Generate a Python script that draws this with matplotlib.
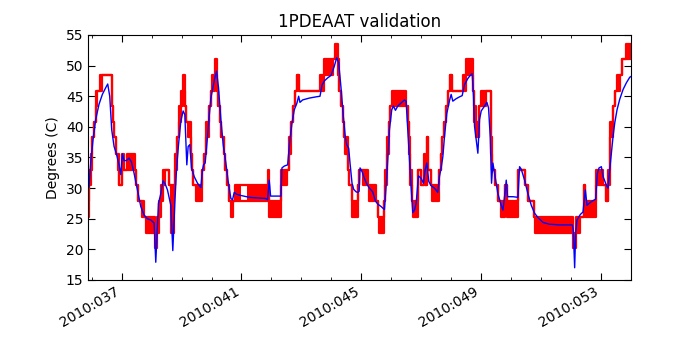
import numpy as np
import matplotlib
matplotlib.use("Agg")
import matplotlib.pyplot as plt
from matplotlib.ticker import FixedLocator, MultipleLocator, FuncFormatter

plt.rcParams["font.family"] = ["DejaVu Sans"]
plt.rcParams["xtick.direction"] = "in"
plt.rcParams["ytick.direction"] = "in"
plt.rcParams["xtick.top"] = True
plt.rcParams["ytick.right"] = True

TITLE = "1PDEAAT validation"
YLABEL = "Degrees (C)"
YEAR = 2010

# telemetry (quantized) as steps: start day, low level, high level (lo < hi means toggling band)
red_t = [35.88, 35.91, 35.96, 36.02, 36.07, 36.13, 36.19, 36.26, 36.33, 36.67,
         36.69, 36.71, 36.74, 36.80, 36.87, 36.91, 37.00, 37.08, 37.19, 37.45,
         37.49, 37.56, 37.69, 37.75, 37.80, 38.10, 38.17, 38.25, 38.31, 38.38,
         38.44, 38.58, 38.65, 38.73, 38.79, 38.84, 38.90, 38.97, 39.03, 39.10,
         39.12, 39.16, 39.21, 39.30, 39.34, 39.39, 39.47, 39.68, 39.74, 39.81,
         39.90, 39.97, 40.03, 40.12, 40.19, 40.23, 40.28, 40.33, 40.40, 40.46,
         40.51, 40.57, 40.65, 40.72, 40.77, 40.98, 41.20, 41.87, 41.93, 42.32,
         42.51, 42.60, 42.65, 42.71, 42.79, 42.87, 42.93, 43.63, 43.77, 44.05,
         44.13, 44.21, 44.27, 44.32, 44.38, 44.42, 44.47, 44.55, 44.60, 44.69,
         44.88, 44.94, 45.05, 45.22, 45.27, 45.48, 45.55, 45.58, 45.77, 45.81,
         45.86, 45.92, 45.96, 46.02, 46.50, 46.55, 46.59, 46.64, 46.69, 46.74,
         46.89, 47.00, 47.09, 47.14, 47.18, 47.22, 47.33, 47.37, 47.59, 47.65,
         47.70, 47.78, 47.84, 47.91, 47.98, 48.04, 48.39, 48.50, 48.73, 48.76,
         48.82, 48.90, 48.94, 49.01, 49.17, 49.32, 49.36, 49.46, 49.56, 49.68,
         49.81, 49.86, 50.23, 50.31, 50.46, 50.57, 50.76, 50.82, 52.07, 52.16,
         52.30, 52.44, 52.49, 52.85, 53.08, 53.19, 53.24, 53.32, 53.41, 53.49,
         53.55, 53.63, 53.71, 53.83]
red_lo = [25.3, 30.5, 33.0, 38.3, 40.8, 43.4, 45.9, 45.9, 48.5, 45.9,
          43.4, 40.8, 38.3, 35.6, 33.0, 30.5, 33.0, 33.0, 33.0, 33.0,
          30.5, 27.9, 25.3, 25.3, 22.7, 20.2, 22.7, 25.3, 27.9, 30.5,
          33.0, 30.5, 22.7, 30.5, 33.0, 38.3, 40.8, 43.4, 45.9, 45.9,
          43.4, 40.8, 38.3, 35.6, 33.0, 30.5, 27.9, 33.0, 35.6, 38.3,
          43.4, 45.9, 45.9, 48.5, 45.9, 43.4, 40.8, 38.3, 35.6, 33.0,
          30.5, 27.9, 25.3, 27.9, 27.9, 27.9, 27.9, 30.5, 25.3, 30.5,
          33.0, 35.6, 40.8, 43.4, 45.9, 48.5, 45.9, 45.9, 48.5, 51.0,
          51.0, 48.5, 45.9, 43.4, 40.8, 38.3, 35.6, 33.0, 30.5, 25.3,
          30.5, 33.0, 30.5, 30.5, 27.9, 27.9, 25.3, 22.7, 27.9, 30.5,
          35.6, 40.8, 43.4, 43.4, 43.4, 40.8, 35.6, 30.5, 27.9, 25.3,
          33.0, 30.5, 33.0, 30.5, 38.3, 33.0, 30.5, 27.9, 33.0, 35.6,
          38.3, 40.8, 43.4, 45.9, 48.5, 45.9, 45.9, 48.5, 45.9, 40.8,
          38.3, 38.3, 43.4, 43.4, 45.9, 35.6, 33.0, 30.5, 27.9, 25.3,
          30.5, 25.3, 33.0, 33.0, 30.5, 27.9, 25.3, 22.7, 20.2, 22.7,
          25.3, 30.5, 25.3, 30.5, 30.5, 27.9, 30.5, 38.3, 43.4, 45.9,
          45.9, 48.5, 51.0, 51.0]
red_hi = [27.9, 33.0, 35.6, 38.3, 40.8, 45.9, 45.9, 48.5, 48.5, 45.9,
          43.4, 40.8, 38.3, 35.6, 35.6, 30.5, 35.6, 33.0, 35.6, 33.0,
          30.5, 27.9, 27.9, 25.3, 25.3, 22.7, 25.3, 27.9, 30.5, 33.0,
          33.0, 30.5, 30.5, 30.5, 35.6, 38.3, 43.4, 45.9, 48.5, 45.9,
          43.4, 40.8, 40.8, 35.6, 33.0, 30.5, 30.5, 33.0, 35.6, 40.8,
          43.4, 45.9, 48.5, 51.0, 45.9, 43.4, 40.8, 38.3, 35.6, 33.0,
          30.5, 27.9, 27.9, 27.9, 30.5, 30.5, 30.5, 33.0, 27.9, 33.0,
          33.0, 38.3, 40.8, 43.4, 45.9, 48.5, 45.9, 48.5, 51.0, 51.0,
          53.6, 51.0, 45.9, 43.4, 40.8, 38.3, 38.3, 33.0, 30.5, 27.9,
          30.5, 33.0, 33.0, 30.5, 30.5, 27.9, 25.3, 25.3, 27.9, 33.0,
          38.3, 40.8, 43.4, 45.9, 43.4, 40.8, 38.3, 33.0, 27.9, 27.9,
          33.0, 30.5, 35.6, 30.5, 38.3, 33.0, 30.5, 30.5, 33.0, 35.6,
          38.3, 40.8, 43.4, 45.9, 48.5, 45.9, 48.5, 51.0, 45.9, 43.4,
          40.8, 38.3, 43.4, 45.9, 45.9, 38.3, 33.0, 30.5, 27.9, 27.9,
          30.5, 27.9, 33.0, 33.0, 30.5, 27.9, 25.3, 25.3, 22.7, 25.3,
          25.3, 30.5, 27.9, 33.0, 30.5, 27.9, 33.0, 40.8, 43.4, 45.9,
          48.5, 48.5, 51.0, 53.6]
# bands that show as an open box (slow toggling) rather than solid
red_open = [40.98]
red_end = 54.0

# model prediction
model_t = [35.907, 35.963, 36.041, 36.130, 36.242, 36.353, 36.465, 36.532, 36.599, 36.666,
           36.744, 36.822, 36.911, 36.967, 37.023, 37.078, 37.156, 37.246, 37.323, 37.413,
           37.524, 37.636, 37.747, 37.859, 37.970, 38.082, 38.137, 38.227, 38.305, 38.383,
           38.450, 38.528, 38.639, 38.706, 38.773, 38.829, 38.895, 38.973, 39.051, 39.107,
           39.140, 39.174, 39.218, 39.274, 39.330, 39.419, 39.531, 39.642, 39.698, 39.731,
           39.787, 39.865, 39.921, 39.977, 40.055, 40.121, 40.166, 40.233, 40.311, 40.389,
           40.478, 40.556, 40.645, 40.701, 40.757, 40.835, 40.980, 41.259, 41.816, 41.872,
           41.927, 41.972, 42.318, 42.351, 42.429, 42.541, 42.619, 42.686, 42.764, 42.853,
           42.909, 42.953, 43.042, 43.265, 43.488, 43.622, 43.689, 43.767, 43.878, 43.990,
           44.101, 44.179, 44.246, 44.324, 44.402, 44.469, 44.514, 44.581, 44.625, 44.692,
           44.748, 44.826, 44.882, 44.930, 44.960, 45.027, 45.105, 45.183, 45.272, 45.383,
           45.473, 45.551, 45.662, 45.774, 45.829, 45.885, 45.941, 46.019, 46.075, 46.142,
           46.220, 46.331, 46.443, 46.498, 46.554, 46.610, 46.665, 46.721, 46.777, 46.833,
           46.911, 47.000, 47.078, 47.134, 47.189, 47.256, 47.334, 47.446, 47.557, 47.613,
           47.669, 47.725, 47.780, 47.858, 47.948, 48.003, 48.059, 48.170, 48.282, 48.371,
           48.449, 48.561, 48.639, 48.706, 48.750, 48.784, 48.839, 48.895, 48.951, 49.007,
           49.118, 49.196, 49.252, 49.308, 49.352, 49.397, 49.453, 49.564, 49.675, 49.731,
           49.798, 49.843, 49.887, 50.066, 50.233, 50.289, 50.344, 50.456, 50.567, 50.679,
           50.790, 50.902, 50.990, 51.069, 51.292, 51.626, 52.050, 52.083, 52.128, 52.161,
           52.206, 52.318, 52.407, 52.485, 52.541, 52.685, 52.830, 52.886, 52.942, 53.020,
           53.076, 53.187, 53.243, 53.299, 53.354, 53.410, 53.466, 53.544, 53.633, 53.745,
           53.856, 53.968, 54.0]
model_T = [30.2, 34.1, 37.9, 41.2, 43.7, 45.3, 46.4, 47.0, 45.0, 39.5,
           36.8, 35.6, 33.8, 32.2, 35.6, 34.5, 34.5, 34.9, 34.3, 32.4,
           29.7, 27.0, 25.6, 25.0, 24.8, 24.3, 17.9, 27.5, 29.1, 31.2,
           30.7, 29.7, 27.2, 19.8, 27.5, 33.0, 37.0, 40.9, 42.6, 42.0,
           37.9, 33.8, 36.8, 37.1, 33.3, 31.9, 30.8, 30.1, 33.0, 33.8,
           34.1, 38.4, 41.7, 44.7, 46.7, 48.3, 49.1, 46.4, 41.2, 37.1,
           34.1, 31.1, 28.3, 28.1, 29.3, 29.0, 28.8, 28.5, 28.3, 28.1,
           31.3, 28.7, 28.7, 33.3, 33.6, 33.8, 37.9, 40.6, 42.8, 43.9,
           45.0, 44.0, 44.4, 44.7, 44.9, 45.0, 46.8, 47.5, 48.0, 48.4,
           49.9, 51.3, 50.5, 46.4, 41.7, 38.3, 37.1, 36.5, 34.1, 30.8,
           29.8, 29.4, 29.3, 29.5, 33.3, 32.7, 31.6, 30.7, 30.0, 29.4,
           27.9, 27.4, 27.0, 26.5, 30.2, 34.6, 39.5, 42.8, 43.4, 42.7,
           43.4, 43.9, 44.4, 44.2, 39.5, 35.1, 30.2, 26.0, 26.4, 27.5,
           32.0, 31.6, 30.8, 33.0, 34.1, 31.1, 30.4, 30.0, 29.3, 31.9,
           33.3, 35.1, 38.4, 42.2, 44.3, 45.3, 44.2, 44.6, 44.9, 45.1,
           46.9, 47.9, 48.4, 48.7, 45.0, 40.1, 37.9, 35.7, 41.2, 42.6,
           43.4, 44.0, 43.1, 38.4, 30.8, 34.1, 32.4, 29.1, 27.2, 26.4,
           29.1, 31.3, 28.6, 28.6, 28.5, 33.5, 33.1, 31.3, 29.1, 27.2,
           25.9, 25.2, 24.8, 24.4, 24.1, 24.0, 24.0, 23.1, 17.0, 22.6,
           24.8, 25.7, 26.1, 29.7, 27.2, 27.8, 28.2, 32.4, 33.3, 33.5,
           31.9, 30.5, 30.0, 33.0, 35.7, 38.4, 40.6, 42.8, 44.5, 46.1,
           47.2, 48.1, 48.2]

tick_days = [37, 41, 45, 49, 53]
xlim = (35.88, 54.0)
ylim = (15, 55)

fig, ax = plt.subplots(figsize=(7, 3.5), dpi=100)
fig.subplots_adjust(left=0.126, right=0.901, top=0.9, bottom=0.2)

# solid bands where the telemetry flips between adjacent counts
t_edges = red_t + [red_end]
for i in range(len(red_t)):
    if red_hi[i] > red_lo[i] and red_t[i] not in red_open:
        ax.fill_between([t_edges[i], t_edges[i + 1]], red_lo[i], red_hi[i],
                        color="r", lw=0)
ax.step(t_edges, red_lo + [red_lo[-1]], where="post", color="r", lw=1.6)
ax.step(t_edges, red_hi + [red_hi[-1]], where="post", color="r", lw=1.6)

ax.plot(model_t, model_T, color="b", lw=1.0)

ax.set_xlim(*xlim)
ax.set_ylim(*ylim)
ax.xaxis.set_major_locator(FixedLocator(tick_days))
ax.xaxis.set_minor_locator(MultipleLocator(1))
ax.xaxis.set_major_formatter(FuncFormatter(lambda d, _: f"{YEAR}:{int(round(d)):03d}"))
ax.yaxis.set_major_locator(MultipleLocator(5))
ax.tick_params(which="major", length=5, labelsize=10)
ax.tick_params(which="minor", length=2.5)
for lab in ax.get_xticklabels():
    lab.set_rotation(30)
    lab.set_ha("right")

ax.set_title(TITLE, fontsize=12)
ax.set_ylabel(YLABEL, fontsize=10)

fig.savefig("out.png", dpi=100, facecolor="white")
